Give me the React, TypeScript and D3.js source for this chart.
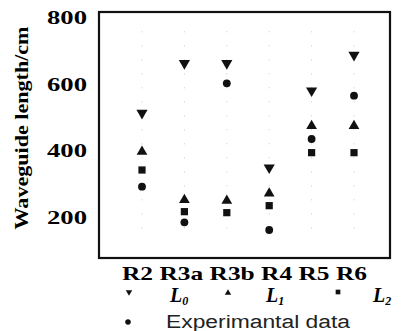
import React from "react";
import * as d3 from "d3";

// waveguide lengths (cm)
const categories = ["R2", "R3a", "R3b", "R4", "R5", "R6"];
const L0 = [515, 664, 664, 351, 582, 689];
const L1 = [399, 254, 252, 274, 476, 476];
const L2 = [344, 219, 216, 237, 396, 396];
const experimental = [294, 187, 604, 164, 437, 567];
const yTicks = [200, 400, 600, 800];

const W = 406;
const H = 331;
const box = { left: 99, top: 12, right: 390, bottom: 258 };
const serif = "'Liberation Serif', 'DejaVu Serif', serif";
const sans = "'Liberation Sans', Arial, sans-serif";

const x = d3.scalePoint<string>().domain(categories).range([142, 354]);
const y = d3.scaleLinear().domain([80, 818]).range([box.bottom, box.top]);

const downTri = d3.symbol().type(d3.symbolTriangle).size(54)();
const upTri = d3.symbol().type(d3.symbolTriangle).size(50)();
const square = d3.symbol().type(d3.symbolSquare).size(52)();
const circle = d3.symbol().type(d3.symbolCircle).size(48)();

const series = [
  { name: "L0", values: L0, path: downTri, rotate: 180 },
  { name: "L1", values: L1, path: upTri, rotate: 0 },
  { name: "L2", values: L2, path: square, rotate: 0 },
  { name: "exp", values: experimental, path: circle, rotate: 0 },
];

const smallDown = d3.symbol().type(d3.symbolTriangle).size(18)();
const smallUp = d3.symbol().type(d3.symbolTriangle).size(18)();
const smallSq = d3.symbol().type(d3.symbolSquare).size(22)();
const smallCirc = d3.symbol().type(d3.symbolCircle).size(24)();

function Sub({ x0, base, sub }: { x0: number; base: string; sub: string }) {
  return (
    <text x={x0} y={302} fontFamily={serif} fontWeight="bold" fontStyle="italic" fontSize={20}>
      {base}
      <tspan fontSize={12} dy={3}>{sub}</tspan>
    </text>
  );
}

export default function App() {
  return (
    <svg width={W} height={H} style={{ position: "absolute", left: 0, top: 0, background: "#fff" }}>
      {/* faint dotted columns from the scan */}
      {categories.map((c) => (
        <line key={"g" + c} x1={x(c)} x2={x(c)} y1={y(760)} y2={y(130)}
          stroke="#c8c8c8" strokeWidth={1} strokeDasharray="1,13" />
      ))}

      <rect x={box.left} y={box.top} width={box.right - box.left} height={box.bottom - box.top}
        fill="none" stroke="#111" strokeWidth={2.2} />

      {yTicks.map((t) => (
        <text key={t} x={87} y={y(t) + 6} textAnchor="end" fontFamily={serif} fontWeight="bold"
          fontSize={19} textLength={40} lengthAdjust="spacingAndGlyphs">{t}</text>
      ))}

      <text transform="translate(28,128) rotate(-90)" textAnchor="middle" fontFamily={serif}
        fontWeight="bold" fontSize={18} textLength={203} lengthAdjust="spacingAndGlyphs">
        Waveguide length/cm
      </text>

      {series.map((s) =>
        s.values.map((v, i) => (
          <path key={s.name + i} d={s.path as string} fill="#111"
            transform={`translate(${x(categories[i])},${y(v)}) rotate(${s.rotate})`} />
        ))
      )}

      <text x={122} y={280} fontFamily={serif} fontWeight="bold" fontSize={19}
        textLength={245} lengthAdjust="spacingAndGlyphs">
        {categories.join(" ")}
      </text>

      <path d={smallDown as string} transform="translate(129,292) rotate(180)" fill="#111" />
      <Sub x0={170} base="L" sub="0" />
      <path d={smallUp as string} transform="translate(228,293)" fill="#111" />
      <Sub x0={266} base="L" sub="1" />
      <path d={smallSq as string} transform="translate(338,292)" fill="#111" />
      <Sub x0={373} base="L" sub="2" />

      <path d={smallCirc as string} transform="translate(128,322)" fill="#111" />
      <text x={166} y={328} fontFamily={sans} fontSize={18} textLength={184}
        lengthAdjust="spacingAndGlyphs" fill="#222">Experimantal data</text>
    </svg>
  );
}
